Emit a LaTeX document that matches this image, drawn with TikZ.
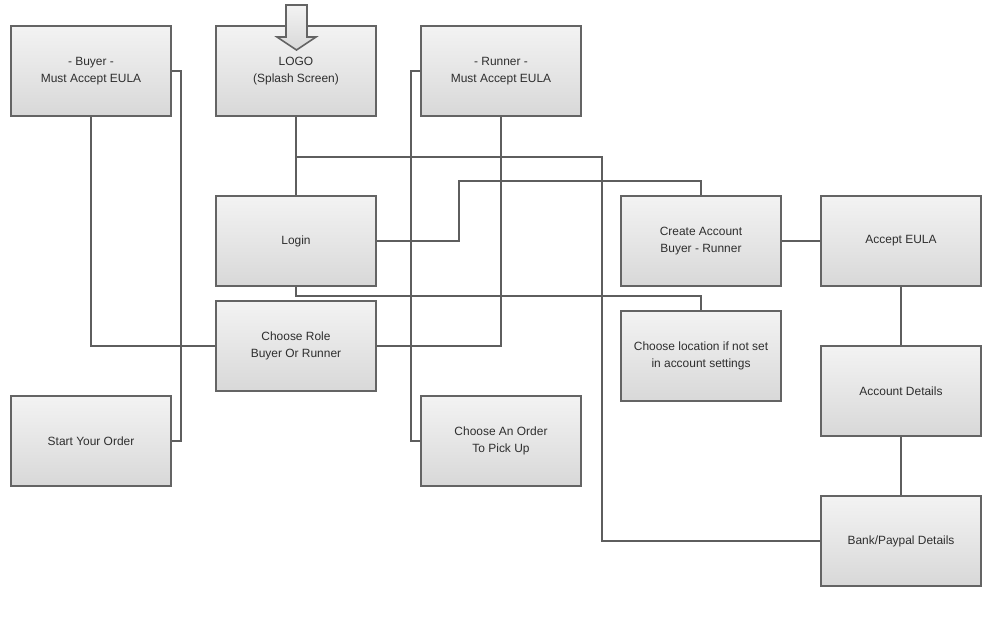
\documentclass[tikz,border=0pt]{standalone}
\usepackage{fontspec}
\setmainfont{Liberation Sans}
\usetikzlibrary{positioning, calc}
\definecolor{boxline}{HTML}{646464}
\definecolor{wireline}{HTML}{5E5E5E}
\definecolor{boxtop}{HTML}{F3F3F3}
\definecolor{boxbottom}{HTML}{D8D8D8}
\definecolor{labeltext}{HTML}{2E2E2E}
\tikzset{
    screen/.style={draw=boxline, line width=1.42pt, rectangle, align=center,
        minimum width=4cm, minimum height=2.25cm, inner sep=0pt,
        top color=boxtop, bottom color=boxbottom, text=labeltext,
        font=\fontsize{8.5}{12}\selectfont},
    wire/.style={draw=wireline, line width=1.42pt}
}

\begin{document}
\begin{tikzpicture}[x=0.025cm, y=-0.025cm]
    \useasboundingbox (0,0) rectangle (992,641);

    % top row
    \node (buyer) [screen] at (91,71) {- Buyer -\\Must Accept EULA};
    \node (logo) [screen] at (296,71) {LOGO\\(Splash Screen)};
    \node (runner) [screen] at (501,71) {- Runner -\\Must Accept EULA};

    % middle rows
    \node (login) [screen] at (296,241) {Login};
    \node (create) [screen] at (701,241) {Create Account\\Buyer - Runner};
    \node (eula) [screen] at (901,241) {Accept EULA};
    \node (role) [screen] at (296,346) {Choose Role\\Buyer Or Runner};
    \node (location) [screen] at (701,356) {Choose location if not set\\in account settings};
    \node (details) [screen] at (901,391) {Account Details};

    % bottom row
    \node (startorder) [screen] at (91,441) {Start Your Order};
    \node (pickup) [screen] at (501,441) {Choose An Order\\To Pick Up};
    \node (bank) [screen] at (901,541) {Bank/Paypal Details};

    % entry arrow into the splash screen
    \draw [draw=boxline, line width=1.1pt, top color=boxtop, bottom color=boxbottom]
        (286,5) -- (307,5) -- (307,37) -- (316,37) -- (296.5,50)
        -- (277,37) -- (286,37) -- cycle;

    \coordinate (splitlogo) at (296,157);
    \coordinate (splitlogin) at (296,296);

    \draw [wire] (logo) -- (login);
    \draw [wire] (splitlogo) -| (602,541) -- (bank);
    \draw [wire] (buyer) |- (role);
    \draw [wire] (buyer.east) -- (181,71) |- (startorder.east);
    \draw [wire] (runner) |- (role);
    \draw [wire] (runner.west) -- (411,71) |- (pickup.west);
    \draw [wire] (login.east) -- (459,241) |- (701,181) -- (create);
    \draw [wire] (login) -- (splitlogin) -| (location);
    \draw [wire] (create) -- (eula);
    \draw [wire] (eula) -- (details);
    \draw [wire] (details) -- (bank);
\end{tikzpicture}
\end{document}
